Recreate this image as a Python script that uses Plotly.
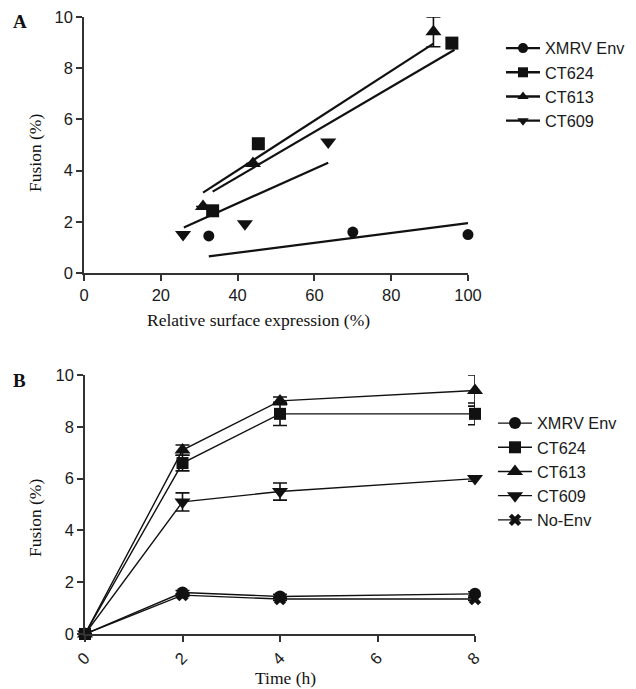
import plotly.graph_objects as go

W, H = 636, 689

# ---------------- Panel A data ----------------
xmrv_expr = [32.5, 70.0, 100.0]
xmrv_fus = [1.45, 1.60, 1.50]
ct624_expr = [33.5, 45.4, 95.8]
ct624_fus = [2.43, 5.05, 8.98]
ct613_expr = [31.0, 44.0, 91.0]
ct613_fus = [2.60, 4.28, 9.42]
ct613_err = [0.0, 0.0, 0.58]
ct609_expr = [25.8, 41.9, 63.6]
ct609_fus = [1.50, 1.92, 5.12]

# linear-fit end points
xmrv_fit_x = [32.5, 100.0]
xmrv_fit_y = [0.65, 1.95]
ct624_fit_x = [33.5, 96.5]
ct624_fit_y = [3.18, 8.72]
ct613_fit_x = [31.0, 91.0]
ct613_fit_y = [3.14, 8.96]
ct609_fit_x = [26.0, 63.6]
ct609_fit_y = [1.78, 4.31]

# ---------------- Panel B data ----------------
time_h = [0, 2, 4, 8]
b_xmrv = [0.0, 1.60, 1.45, 1.55]
b_xmrv_err = [0.0, 0.08, 0.08, 0.08]
b_ct624 = [0.0, 6.60, 8.50, 8.50]
b_ct624_err = [0.0, 0.30, 0.45, 0.42]
b_ct613 = [0.0, 7.10, 9.00, 9.40]
b_ct613_err = [0.0, 0.20, 0.15, 0.60]
b_ct609 = [0.0, 5.10, 5.50, 6.00]
b_ct609_err = [0.0, 0.35, 0.33, 0.10]
b_noenv = [0.0, 1.50, 1.35, 1.35]
b_noenv_err = [0.0, 0.05, 0.05, 0.05]

names = ["XMRV Env", "CT624", "CT613", "CT609", "No-Env"]
symbols = ["circle", "square", "triangle-up", "triangle-down", "x"]
a_tick_x = [0, 20, 40, 60, 80, 100]
y_ticks = [0, 2, 4, 6, 8, 10]
b_tick_x = [0, 2, 4, 6, 8]

INK = "#111111"
AX = "#333333"


def pxx(v):
    return v / W


def pyy(v):
    return 1 - v / H


fig = go.Figure()

# ---- Panel A ----
a_pts = [
    (xmrv_expr, xmrv_fus, None, xmrv_fit_x, xmrv_fit_y, 11),
    (ct624_expr, ct624_fus, None, ct624_fit_x, ct624_fit_y, 13),
    (ct613_expr, ct613_fus, ct613_err, ct613_fit_x, ct613_fit_y, 14),
    (ct609_expr, ct609_fus, None, ct609_fit_x, ct609_fit_y, 14),
]
for i, (ex, fu, er, fx, fy, ms) in enumerate(a_pts):
    fig.add_trace(go.Scatter(
        x=fx, y=fy, mode="lines", line=dict(color=INK, width=2.2),
        showlegend=False, xaxis="x", yaxis="y", hoverinfo="skip"))
    kw = {}
    if er is not None:
        kw["error_y"] = dict(type="data", array=er, visible=True,
                             color=INK, thickness=1.6, width=7)
    fig.add_trace(go.Scatter(
        x=ex, y=fu, mode="markers",
        marker=dict(symbol=symbols[i], size=ms, color=INK),
        showlegend=False, cliponaxis=False, xaxis="x", yaxis="y", **kw))
    # legend entry (line + marker)
    fig.add_trace(go.Scatter(
        x=[None], y=[None], mode="lines+markers", name=names[i],
        line=dict(color=INK, width=2.4),
        marker=dict(symbol=symbols[i], size=10, color=INK),
        legend="legend", xaxis="x", yaxis="y"))

# ---- Panel B ----
b_series = [
    (b_xmrv, b_xmrv_err, 12),
    (b_ct624, b_ct624_err, 12),
    (b_ct613, b_ct613_err, 14),
    (b_ct609, b_ct609_err, 14),
    (b_noenv, b_noenv_err, 11),
]
draw_order = [4, 0, 3, 2, 1]
for i in draw_order:
    vals, err, ms = b_series[i]
    mk = dict(symbol=symbols[i], size=ms, color=INK)
    if symbols[i] == "x":
        mk["line"] = dict(width=0)
    fig.add_trace(go.Scatter(
        x=time_h, y=vals, mode="lines+markers", name=names[i],
        line=dict(color=INK, width=1.4), marker=mk,
        error_y=dict(type="data", array=err, visible=True, color=INK,
                     thickness=1.6, width=7),
        cliponaxis=False, legend="legend2", legendrank=i + 1,
        xaxis="x2", yaxis="y2"))

axis_common = dict(
    showgrid=False, zeroline=False, showline=True, linecolor=AX, linewidth=1.5,
    ticks="outside", ticklen=6, tickwidth=1.5, tickcolor=AX,
    tickfont=dict(family="Liberation Sans, Arial, sans-serif", size=16.5, color="#1a1a1a"),
    automargin=False,
)

legend_font = dict(family="Liberation Sans, Arial, sans-serif", size=16.3, color="#1a1a1a")

fig.update_layout(
    width=W, height=H, autosize=False,
    margin=dict(l=0, r=0, t=0, b=0),
    paper_bgcolor="white", plot_bgcolor="white",
    xaxis=dict(domain=[pxx(84), pxx(468)], range=[0, 100], tickvals=a_tick_x,
               anchor="y", **axis_common),
    yaxis=dict(domain=[pyy(273), pyy(17)], range=[0, 10], tickvals=y_ticks,
               anchor="x", **axis_common),
    xaxis2=dict(domain=[pxx(85), pxx(475)], range=[0, 8], tickvals=b_tick_x,
                tickangle=-45, anchor="y2", **axis_common),
    yaxis2=dict(domain=[pyy(634), pyy(375)], range=[0, 10], tickvals=y_ticks,
                anchor="x2", **axis_common),
    legend=dict(x=pxx(501), y=pyy(31), xanchor="left", yanchor="top",
                font=legend_font, itemwidth=34, bgcolor="rgba(0,0,0,0)",
                tracegroupgap=0),
    legend2=dict(x=pxx(493), y=pyy(406), xanchor="left", yanchor="top",
                 font=legend_font, itemwidth=34, bgcolor="rgba(0,0,0,0)",
                 tracegroupgap=0),
    showlegend=True,
)

serif = "Liberation Serif, Times New Roman, serif"
ann = [
    dict(text="<b>A</b>", x=pxx(20), y=pyy(21), size=19),
    dict(text="<b>B</b>", x=pxx(19), y=pyy(380), size=19),
    dict(text="Relative surface expression (%)", x=pxx(258), y=pyy(320), size=17.5),
    dict(text="Fusion (%)", x=pxx(35), y=pyy(153), size=17.5, angle=-90),
    dict(text="Time (h)", x=pxx(285), y=pyy(678), size=17.5),
    dict(text="Fusion (%)", x=pxx(35), y=pyy(518), size=17.5, angle=-90),
]
for a in ann:
    fig.add_annotation(
        text=a["text"], x=a["x"], y=a["y"], xref="paper", yref="paper",
        xanchor="center", yanchor="middle", showarrow=False,
        textangle=a.get("angle", 0),
        font=dict(family=serif, size=a["size"], color="#111111"))

fig.write_html(
    "out.html",
    config={"displayModeBar": False},
    post_script="document.body.style.margin='0';document.body.style.overflow='hidden';",
)
